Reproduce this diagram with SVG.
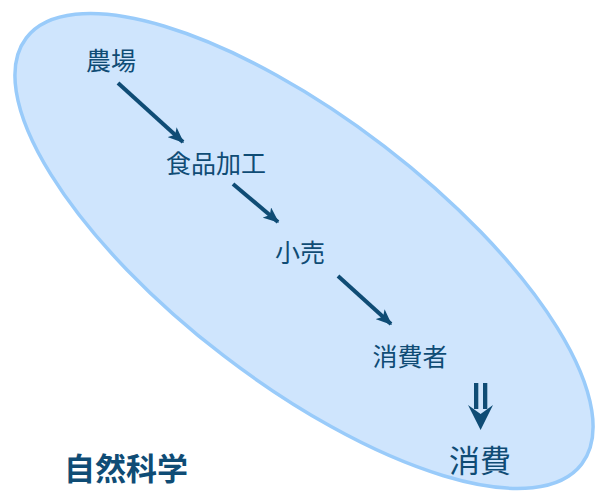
<svg xmlns="http://www.w3.org/2000/svg" width="597" height="493" viewBox="0 0 597 493">
<defs>
<style>
.lbl{font-family:"Noto Sans CJK JP","Noto Sans CJK SC",sans-serif;fill:#0f4c75;text-anchor:middle}
.conn{stroke:#0f4c75;stroke-width:4;fill:none}
</style>
<marker id="ah" viewBox="0 0 12 10" refX="11" refY="5" markerWidth="4" markerHeight="3.4" orient="auto" markerUnits="strokeWidth">
<path d="M0,0 L12,5 L0,10 L3,5 Z" fill="#0f4c75"/>
</marker>
</defs>
<rect width="597" height="493" fill="#ffffff"/>
<g id="field">
<ellipse cx="304" cy="251" rx="350" ry="132" transform="rotate(37.5 304 251)" fill="#cfe5fd" stroke="#99cbfa" stroke-width="3.5"/>
</g>
<g id="connectors">
<line class="conn" x1="118" y1="83" x2="183" y2="142" marker-end="url(#ah)"/>
<line class="conn" x1="233" y1="184" x2="278" y2="222" marker-end="url(#ah)"/>
<line class="conn" x1="338" y1="276" x2="391" y2="324" marker-end="url(#ah)"/>
<g id="double-arrow" fill="#0f4c75">
<rect x="474" y="383" width="4.3" height="26"/>
<rect x="483" y="383" width="4.3" height="26"/>
<path d="M468,405 L480.6,414 L493,405 L480.6,430 Z"/>
</g>
</g>
<g id="n-farm"><text class="lbl" x="111" y="70" font-size="25">農場</text></g>
<g id="n-food"><text class="lbl" x="216" y="173" font-size="25">食品加工</text></g>
<g id="n-retail"><text class="lbl" x="300" y="262" font-size="25">小売</text></g>
<g id="n-consumer"><text class="lbl" x="410" y="366" font-size="25">消費者</text></g>
<g id="n-consumption"><text class="lbl" x="480" y="472" font-size="31">消費</text></g>
<g id="n-science"><text class="lbl" x="126" y="480" font-size="31" font-weight="bold">自然科学</text></g>
</svg>
